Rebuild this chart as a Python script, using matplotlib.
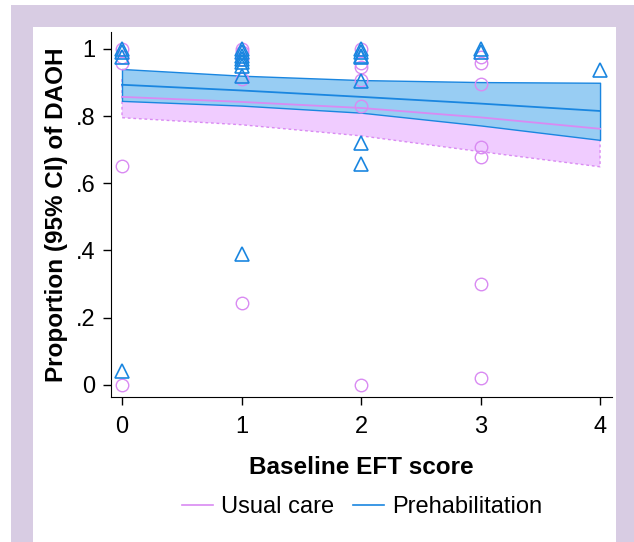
import matplotlib.pyplot as plt
from matplotlib.lines import Line2D
from matplotlib.patches import Rectangle

plt.rcParams['font.family'] = ['Liberation Sans', 'DejaVu Sans']

# Fitted curves (at each EFT score)
eft = [0, 1, 2, 3, 4]
usual_mean = [0.857, 0.842, 0.824, 0.796, 0.762]
usual_lo = [0.795, 0.774, 0.741, 0.694, 0.649]
usual_hi = [0.910, 0.900, 0.890, 0.878, 0.860]
prehab_mean = [0.893, 0.876, 0.857, 0.837, 0.815]
prehab_lo = [0.845, 0.831, 0.810, 0.772, 0.729]
prehab_hi = [0.940, 0.920, 0.907, 0.901, 0.899]

# Observed proportions
usual_x = [0, 0, 0, 0, 0,
           1, 1, 1, 1, 1,
           2, 2, 2, 2, 2, 2,
           3, 3, 3, 3, 3, 3, 3]
usual_y = [1.0, 0.976, 0.958, 0.65, 0.0,
           1.0, 0.99, 0.97, 0.91, 0.245,
           1.0, 0.958, 0.947, 0.908, 0.83, 0.0,
           0.977, 0.957, 0.896, 0.707, 0.677, 0.30, 0.02]
prehab_x = [0, 0, 0, 0,
            1, 1, 1, 1, 1, 1, 1, 1,
            2, 2, 2, 2, 2, 2, 2,
            3, 3,
            4]
prehab_y = [1.0, 0.99, 0.975, 0.04,
            1.0, 0.99, 0.98, 0.97, 0.96, 0.95, 0.92, 0.39,
            1.0, 0.99, 0.98, 0.975, 0.903, 0.721, 0.658,
            1.0, 0.99,
            0.937]

violet = '#d98af2'
violet_fill = '#f0ccff'
blue = '#1a86e0'
blue_fill = '#98cdf3'
frame = '#d8cce3'

fig = plt.figure(figsize=(6.34, 5.42), dpi=100)
W, H = 634, 542

# lavender frame
for (x0, y0, w, h) in [(11, 0, 22, 537), (616, 0, 18, 537), (11, 515, 623, 22)]:
    fig.add_artist(Rectangle((x0 / W, y0 / H), w / W, h / H,
                             transform=fig.transFigure, color=frame, lw=0, zorder=0))

ax = fig.add_axes([111 / W, 1 - 397 / H, (612 - 111) / W, (397 - 32) / H])
ax.set_facecolor('white')

ax.fill_between(eft, usual_lo, usual_hi, facecolor=violet_fill, edgecolor=violet,
                linestyle=(0, (2, 2)), linewidth=1, zorder=1)
ax.plot(eft, usual_mean, color=violet, lw=1.3, zorder=3)
ax.fill_between(eft, prehab_lo, prehab_hi, facecolor=blue_fill, edgecolor=blue,
                linewidth=1, zorder=2)
ax.plot(eft, prehab_mean, color=blue, lw=1.3, zorder=3)

ax.plot(usual_x, usual_y, 'o', ms=9, mfc='none', mec=violet, mew=1, zorder=4)
ax.plot(prehab_x, prehab_y, '^', ms=10, mfc='none', mec=blue, mew=1.2, zorder=4)

ax.set_xlim(-0.092, 4.1)
ax.set_ylim(-0.036, 1.05)
ax.set_xticks([0, 1, 2, 3, 4])
ax.set_yticks([0, 0.2, 0.4, 0.6, 0.8, 1.0])
ax.set_yticklabels(['0', '.2', '.4', '.6', '.8', '1'])
ax.tick_params(labelsize=17, length=6, width=1, pad=5)
ax.tick_params(axis='x', pad=8)
ax.spines['top'].set_visible(False)
ax.spines['right'].set_visible(False)
ax.set_xlabel('Baseline EFT score', fontsize=17.5, fontweight='bold', labelpad=13)
ax.set_ylabel('Proportion (95% CI) of DAOH', fontsize=17.5, fontweight='bold', labelpad=6)

handles = [Line2D([0], [0], color=violet, lw=1.2),
           Line2D([0], [0], color=blue, lw=1.2)]
fig.legend(handles, ['Usual care', 'Prehabilitation'], loc='center',
           bbox_to_anchor=(362 / W, 1 - 507 / H), ncol=2, frameon=False,
           fontsize=17, handlelength=1.3, handletextpad=0.35, columnspacing=0.8)

fig.savefig('out.png', dpi=100, facecolor='white')
